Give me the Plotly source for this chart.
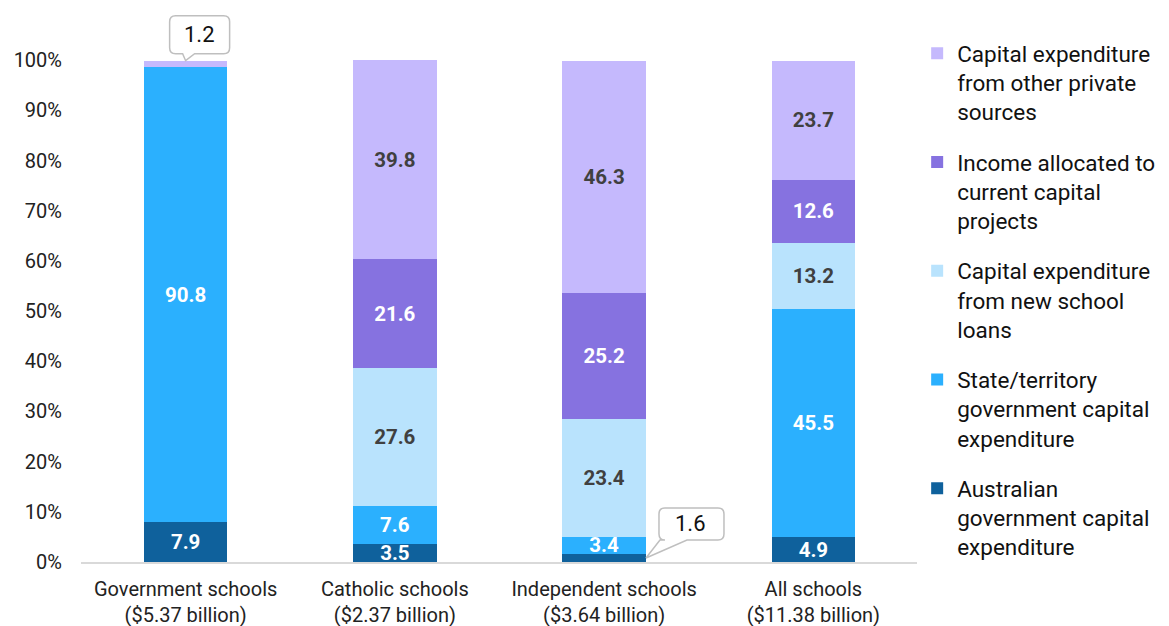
import plotly.graph_objects as go

# School sectors (x categories) and capital expenditure shares (%) by source
categories = [
    "Government schools<br>($5.37 billion)",
    "Catholic schools<br>($2.37 billion)",
    "Independent schools<br>($3.64 billion)",
    "All schools<br>($11.38 billion)",
]

australian_gov = [7.9, 3.5, 1.6, 4.9]
state_territory = [90.8, 7.6, 3.4, 45.5]
new_loans = [0.0, 27.6, 23.4, 13.2]
income_allocated = [0.0, 21.6, 25.2, 12.6]
other_private = [1.2, 39.8, 46.3, 23.7]

series = [
    ("Australian<br>government capital<br>expenditure", australian_gov, "#0f619c", "white"),
    ("State/territory<br>government capital<br>expenditure", state_territory, "#2bb0fe", "white"),
    ("Capital expenditure<br>from new school<br>loans", new_loans, "#b9e3fd", "#404040"),
    ("Income allocated to<br>current capital<br>projects", income_allocated, "#8672e0", "white"),
    ("Capital expenditure<br>from other private<br>sources", other_private, "#c5b9fd", "#404040"),
]

FONT = "Roboto"

fig = go.Figure()
for i, (name, vals, color, txtcol) in enumerate(series):
    labels = [f"{v:.1f}" if v >= 3 else "" for v in vals]
    fig.add_trace(go.Bar(
        x=categories, y=vals, name=name,
        marker=dict(color=color, line=dict(width=0)),
        width=0.4,
        text=labels, textposition="inside", insidetextanchor="middle",
        constraintext="none",
        textfont=dict(family=FONT, size=20.5, color=txtcol, weight="bold"),
        legendgroup=f"g{i}",
        legendrank=len(series) - i,
        hoverinfo="skip",
    ))


def callout_path(bx0, bx1, by0, by1, w0, w1, tx, ty, r=6):
    """Rounded box (pixel offsets, y up) with a wedge on its bottom edge pointing to (tx, ty)."""
    return (
        f"M{bx0 + r},{by0} L{w0},{by0} L{tx},{ty} L{w1},{by0} L{bx1 - r},{by0} "
        f"Q{bx1},{by0} {bx1},{by0 + r} L{bx1},{by1 - r} Q{bx1},{by1} {bx1 - r},{by1} "
        f"L{bx0 + r},{by1} Q{bx0},{by1} {bx0},{by1 - r} L{bx0},{by0 + r} "
        f"Q{bx0},{by0} {bx0 + r},{by0} Z"
    )


# Callouts for the thin segments that are too small to hold their labels
gov_top = sum(s[1][0] for s in series)
callouts = [
    # (x anchor, y anchor, value, path, text shift)
    (0, gov_top, other_private[0],
     callout_path(-16, 44, 7, 45, -3, 9, 0, 0), (14, 26)),
    (2.2, australian_gov[2] / 2, australian_gov[2],
     callout_path(13, 78, 18, 50, 14, 41, 0, 0), (45, 34)),
]
for xa, ya, val, path, (dx, dy) in callouts:
    fig.add_shape(
        type="path", xref="x", yref="y",
        xsizemode="pixel", ysizemode="pixel",
        xanchor=xa, yanchor=ya, path=path,
        fillcolor="white", line=dict(color="#bfbfbf", width=1.5),
        layer="above",
    )
    fig.add_annotation(
        x=xa, y=ya, xref="x", yref="y", text=f"{val:.1f}",
        showarrow=False, xshift=dx, yshift=dy,
        font=dict(family=FONT, size=22, color="#111111"),
    )

fig.update_layout(
    width=1169, height=626,
    margin=dict(l=81, r=251, t=10, b=64, autoexpand=False),
    barmode="stack",
    plot_bgcolor="white", paper_bgcolor="white",
    font=dict(family=FONT, color="#222222"),
    showlegend=True,
    legend=dict(
        x=0.999, y=0.96, xanchor="left", yanchor="top",
        traceorder="grouped", tracegroupgap=18,
        valign="top",
        font=dict(family=FONT, size=22.5, color="#111111"),
        itemwidth=30, maxheight=610,
    ),
    xaxis=dict(
        showline=True, linecolor="#d9d9d9", linewidth=1.5,
        showgrid=False, ticks="", ticklabelstandoff=8, automargin=False,
        tickfont=dict(family=FONT, size=20, color="#222222"),
    ),
    yaxis=dict(
        range=[0, 110], tickvals=list(range(0, 101, 10)),
        ticktext=[f"{v}%" for v in range(0, 101, 10)],
        showgrid=False, zeroline=False, showline=False, automargin=False,
        ticks="", ticklabelstandoff=18,
        tickfont=dict(family=FONT, size=20, color="#222222"),
    ),
)

fig.write_html("out.html")
